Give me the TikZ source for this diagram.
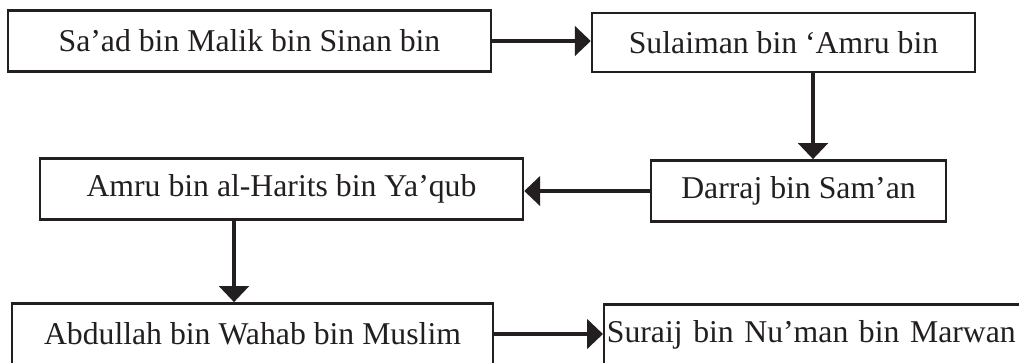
\documentclass[tikz,border=0pt]{standalone}
\usepackage{fontspec}
\setmainfont{Liberation Serif}
\usetikzlibrary{arrows.meta, positioning}
\definecolor{cink}{HTML}{231F20}
\tikzset{
  every picture/.style={line width=1.8pt},
  box/.style={draw=cink, text=cink, minimum width=#1, minimum height=46pt, inner sep=2pt},
  box/.default=0pt,
  arrow/.style={-{Triangle[length=12pt, width=22pt]}, draw=cink, line width=3.6pt},
}

\begin{document}
\begin{tikzpicture}[x=0.75pt, y=-0.75pt, every node/.append style={font=\fontsize{23.8}{28}\selectfont}]
  \path[use as bounding box, fill=white] (0,0) rectangle (1019,362);
  \clip (0,0) rectangle (1019,362);
  \node[box=362.25pt] (sad) at (249.5,41) {Sa’ad bin Malik bin Sinan bin};
  \node[box=287.25pt, minimum height=44pt] (sul) at (783.5,42.5) {Sulaiman bin ‘Amru bin};
  \node[box=221.25pt] (dar) at (798.5,191) {Darraj bin Sam’an};
  \node[box=362.25pt] (amr) at (281.5,189) {Amru bin al-Harits bin Ya’qub};
  \node[box=360.75pt] (abd) at (252.5,334) {Abdullah bin Wahab bin Muslim};
  \node[box, anchor=west, text width=322.5pt, align=left] (sur) at (603,335) {Suraij bin Nu’man bin Marwan};
  \coordinate (tap1) at (813,0);
  \coordinate (tap2) at (234,0);
  \draw[arrow] (sad.east) -- (sad.east -| sul.west);
  \draw[arrow] (sul.south -| tap1) -- (dar.north -| tap1);
  \draw[arrow] (dar.west) -- (dar.west -| amr.east);
  \draw[arrow] (amr.south -| tap2) -- (abd.north -| tap2);
  \draw[arrow] (abd.east) -- (abd.east -| sur.west);
\end{tikzpicture}
\end{document}
